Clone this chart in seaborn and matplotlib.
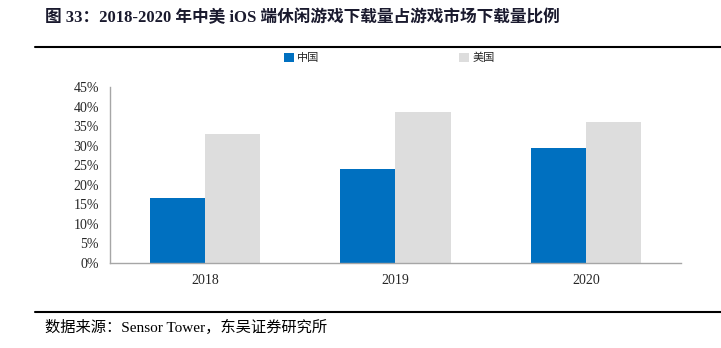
import matplotlib
matplotlib.use("Agg")
import matplotlib.pyplot as plt
import seaborn as sns
import pandas as pd
from matplotlib.patches import Patch
from matplotlib.lines import Line2D

years = ["2018", "2019", "2020"]
series_names = ["中国", "美国"]
china = [0.165, 0.241, 0.293]
usa = [0.330, 0.387, 0.360]
colors = ["#0070C0", "#DDDDDD"]
yticks = [0, 0.05, 0.10, 0.15, 0.20, 0.25, 0.30, 0.35, 0.40, 0.45]
ytick_labels = ["0%", "5%", "10%", "15%", "20%", "25%", "30%", "35%", "40%", "45%"]
title = "图 33：2018-2020 年中美 iOS 端休闲游戏下载量占游戏市场下载量比例"
source = "数据来源：Sensor Tower，东吴证券研究所"

sns.set_style("white")
FAM = ["Liberation Serif", "Noto Sans CJK SC", "DejaVu Sans"]
plt.rcParams["font.family"] = FAM

df = pd.DataFrame({
    "year": years * 2,
    "series": [series_names[0]] * 3 + [series_names[1]] * 3,
    "value": china + usa,
})

fig = plt.figure(figsize=(7.21, 3.48), dpi=100)
ax = fig.add_axes([110 / 721, 1 - 262.7 / 348, 571 / 721, 175.4 / 348])
sns.barplot(data=df, x="year", y="value", hue="series", palette=colors,
            width=0.58, saturation=1, ax=ax, legend=False, edgecolor="none")

axis_col = "#A6A6A6"
ax.set_ylim(0, 0.45)
ax.set_xlim(-0.5, 2.5)
ax.set_yticks(yticks)
ax.set_yticklabels(ytick_labels, fontsize=10)
ax.set_xlabel("")
ax.set_ylabel("")
ax.tick_params(axis="x", length=0, pad=8, labelsize=10)
ax.tick_params(axis="y", length=3, width=0.8, color=axis_col, direction="in", pad=8)
for s in ["top", "right"]:
    ax.spines[s].set_visible(False)
for s in ["left", "bottom"]:
    ax.spines[s].set_color(axis_col)
    ax.spines[s].set_linewidth(1.0)
# category boundary ticks on x axis
ax.set_xticks([0, 1, 2])
ax.set_xticks([0.5, 1.5, 2.5], minor=True)
ax.tick_params(axis="x", which="minor", length=4, width=0.8, color=axis_col, direction="in")

# legend
handles = [Patch(facecolor=colors[0], edgecolor="none"),
           Patch(facecolor=colors[1], edgecolor="none")]
fig.legend(handles, series_names, loc="center", bbox_to_anchor=(0.540, 1 - 58 / 348),
           ncol=2, frameon=False, handlelength=0.9, handleheight=0.9,
           handletextpad=0.3, columnspacing=12.6, prop={"family": FAM, "size": 8})

# title and rules
fig.text(45 / 721, 1 - 18 / 348, title, fontsize=12, fontweight="bold",
         va="center", ha="left", color="#1a1a2e")
fig.add_artist(Line2D([35 / 721, 1.0], [1 - 47 / 348] * 2, color="black", lw=1.5))
fig.add_artist(Line2D([35 / 721, 1.0], [1 - 312 / 348] * 2, color="black", lw=1.5))
fig.text(45 / 721, 1 - 327 / 348, source, fontsize=11, va="center", ha="left", color="black")

fig.savefig("out.png", dpi=100)
